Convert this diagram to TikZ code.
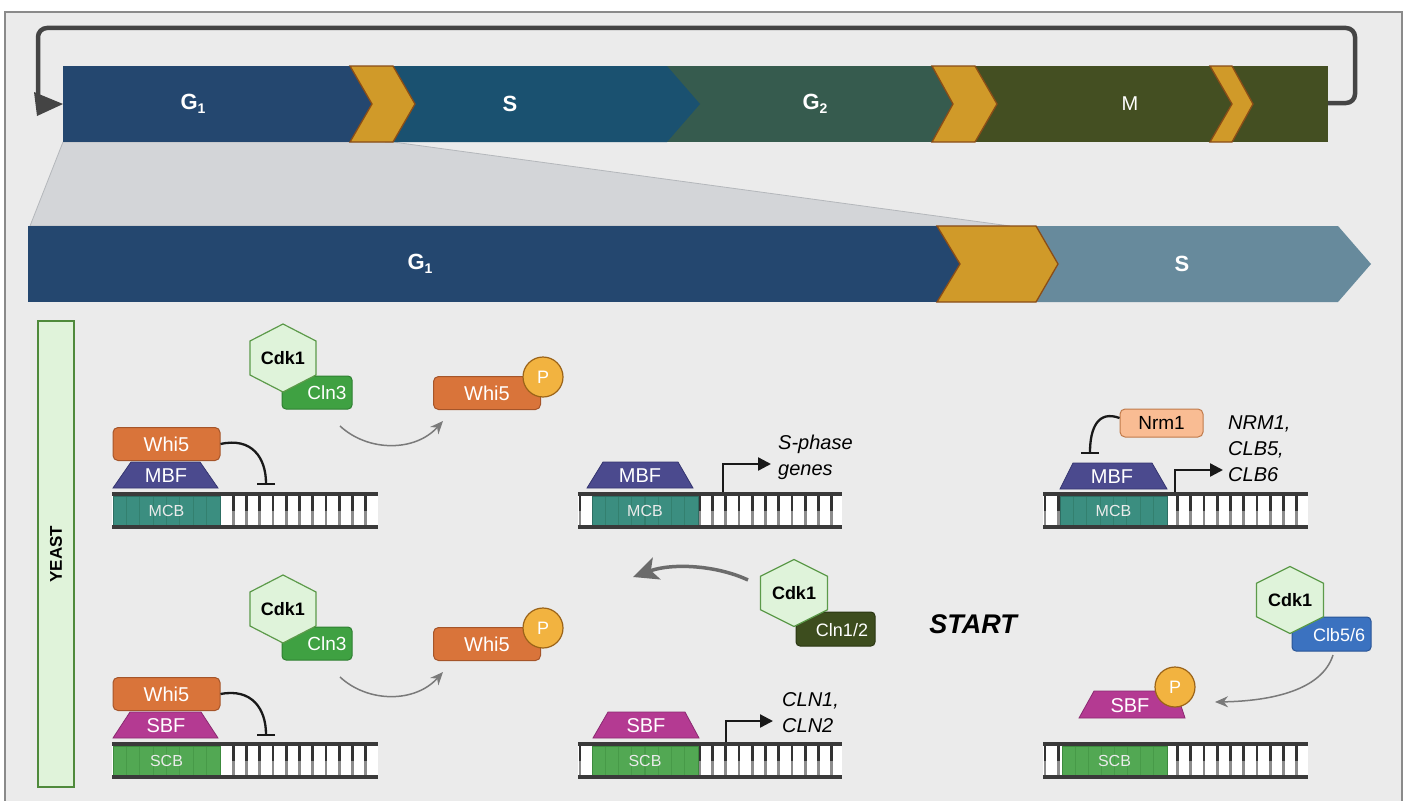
\documentclass[tikz,border=0pt]{standalone}
\usepackage{fontspec}
\setmainfont{Liberation Sans}
\usetikzlibrary{arrows.meta}

\definecolor{panel}{HTML}{EBEBEB}
\definecolor{paneledge}{HTML}{8A8A8A}
\definecolor{wedge}{HTML}{D3D5D8}
\definecolor{wedgeedge}{HTML}{B4B7BB}
\definecolor{cGone}{HTML}{24476F}
\definecolor{cS}{HTML}{1A5170}
\definecolor{cGtwo}{HTML}{365B4E}
\definecolor{cM}{HTML}{444F22}
\definecolor{cSlight}{HTML}{678A9C}
\definecolor{gold}{HTML}{D09A29}
\definecolor{goldedge}{HTML}{8A4D17}
\definecolor{loopc}{HTML}{444444}
\definecolor{yfill}{HTML}{E0F3DA}
\definecolor{yedge}{HTML}{4F8A3B}
\definecolor{whi}{HTML}{D9743A}
\definecolor{whiedge}{HTML}{A5552A}
\definecolor{mbf}{HTML}{4B4A8E}
\definecolor{mbfedge}{HTML}{35356F}
\definecolor{sbf}{HTML}{B43A92}
\definecolor{sbfedge}{HTML}{8A2A70}
\definecolor{mcb}{HTML}{3B8E80}
\definecolor{mcbline}{HTML}{33806F}
\definecolor{mcbedge}{HTML}{2D6E63}
\definecolor{scb}{HTML}{52A853}
\definecolor{scbline}{HTML}{479A48}
\definecolor{scbedge}{HTML}{3C8A3D}
\definecolor{hexfill}{HTML}{DFF3DA}
\definecolor{hexedge}{HTML}{5C9A4A}
\definecolor{clnthree}{HTML}{3FA142}
\definecolor{clnthreeedge}{HTML}{2F8032}
\definecolor{clnonetwo}{HTML}{3D4D1E}
\definecolor{clnonetwoedge}{HTML}{2A3612}
\definecolor{clb}{HTML}{3B72C0}
\definecolor{clbedge}{HTML}{2A5596}
\definecolor{pfill}{HTML}{F2B340}
\definecolor{pedge}{HTML}{9B6318}
\definecolor{nrm}{HTML}{F9BC93}
\definecolor{nrmedge}{HTML}{C07A4B}
\definecolor{rail}{HTML}{3A3A3A}
\definecolor{rungdark}{HTML}{333333}
\definecolor{runglight}{HTML}{8C8C8C}
\definecolor{greyarrow}{HTML}{7A7A7A}
\definecolor{bigarrowc}{HTML}{6B6B6B}

\newcommand\fsz[1]{\fontsize{#1}{\fpeval{#1*1.3}}\selectfont}
\newcommand\lowidx[1]{\raisebox{-4pt}{\fsz{14}#1}}

% ladder of a DNA double strand with a coloured binding box
% #1 x0, #2 x1, #3 top rail y, #4 box left, #5 box right, #6 box colour prefix, #7 box label, #8 node name
\newcommand\dnastrand[8]{%
  \fill[white] (#1,#3) rectangle (#2,#3+33);
  \foreach \k in {0,...,20}{%
    \pgfmathsetmacro\rx{#1+2+13.25*\k}%
    \ifdim\rx pt<#2pt
      \draw[rungtop] (\rx,#3) -- (\rx,#3+16.5);
      \draw[rungbot] (\rx,#3+16.5) -- (\rx,#3+33);
    \fi
  }%
  \fill[#6] (#4,#3+2) rectangle (#5,#3+31);
  \foreach \k in {1,...,7}{%
    \draw[#6line, line width=1.2] ({#4+(#5-#4)*\k/8},#3+2) -- ({#4+(#5-#4)*\k/8},#3+31);
  }%
  \draw[#6edge, line width=1] (#4,#3+2) rectangle (#5,#3+31);
  \node[boxlbl] (#8) at ({(#4+#5)/2},#3+17) {#7};
  \draw[railline] (#1,#3) -- (#2,#3);
  \draw[railline] (#1,#3+33) -- (#2,#3+33);
}

% Cdk1 hexagon: #1 cx, #2 cy, #3 width, #4 height, #5 node name
\newcommand\cdkhex[5]{%
  \filldraw[fill=hexfill, draw=hexedge, line width=1.2]
    (#1,#2-#4/2) -- (#1+#3/2,#2-#4/4) -- (#1+#3/2,#2+#4/4) -- (#1,#2+#4/2)
    -- (#1-#3/2,#2+#4/4) -- (#1-#3/2,#2-#4/4) -- cycle;
  \node[font=\bfseries\fsz{18}, inner sep=0] (#5) at (#1,#2) {Cdk1};
}

\begin{document}
\begin{tikzpicture}[x=1pt,y=-1pt,
  chev/.style={fill=gold, draw=goldedge, line width=1.3, line join=miter},
  barlbl/.style={text=white, font=\bfseries\fsz{22}, inner sep=0},
  loopline/.style={draw=loopc, line width=4.5, rounded corners=9},
  ybox/.style={draw=yedge, fill=yfill, line width=1.3, minimum width=466, minimum height=36, inner sep=0, font=\bfseries\fsz{17}},
  whibox/.style={draw=whiedge, fill=whi, rounded corners=5, line width=1, minimum width=107, minimum height=33, inner sep=0, text=white, font=\fsz{20}},
  protlbl/.style={text=white, font=\fsz{20}, inner sep=0},
  boxlbl/.style={text=white!92!black, font=\fsz{16}, inner sep=0},
  rungtop/.style={draw=rungdark, line width=2.6},
  rungbot/.style={draw=runglight, line width=2.6},
  railline/.style={draw=rail, line width=4},
  inhib/.style={draw=black!90, line width=2.3, -{Bar[width=18pt]}},
  txarrow/.style={draw=black!90, line width=2.3, -{Triangle[length=13pt,width=13pt]}},
  garrow/.style={draw=greyarrow, line width=1.5, -{Stealth[length=13pt,width=11pt]}},
  bigarrow/.style={draw=bigarrowc, line width=3.5, -{Stealth[length=25pt,width=23pt,inset=6pt]}},
  pcircle/.style={circle, fill=pfill, draw=pedge, line width=1.2, minimum size=40, inner sep=0, text=white, font=\fsz{18}},
  genelbl/.style={font=\itshape\fsz{20}, align=left, anchor=west, inner sep=0},
  cycbox/.style={rounded corners=4, line width=1, inner sep=0, text=white, font=\fsz{19}}
]
\useasboundingbox (0,0) rectangle (1407,800);

% ---------- panel ----------
\fill[white] (0,0) rectangle (1407,800);
\filldraw[fill=panel, draw=paneledge, line width=1.2] (5,12) rectangle (1402,815);

% ---------- zoom wedge between the two bars ----------
\filldraw[fill=wedge, draw=wedgeedge, line width=0.8]
  (63,142) -- (393,142) -- (1010,226) -- (30,226) -- cycle;

% ---------- full cycle bar ----------
\fill[cGtwo] (650,66) rectangle (965,142);
\fill[cM] (960,66) rectangle (1328,142);
\fill[cS] (385,66) -- (667,66) -- (700,104) -- (667,142) -- (385,142) -- cycle;
\fill[cGone] (63,66) rectangle (372,142);
\draw[chev] (350,66) -- (393,66) -- (415,104) -- (393,142) -- (350,142) -- (372,104) -- cycle;
\draw[chev] (932,66) -- (975,66) -- (997,104) -- (975,142) -- (932,142) -- (953,104) -- cycle;
\draw[chev] (1210,66) -- (1232,66) -- (1253,104) -- (1232,142) -- (1210,142) -- (1232,104) -- cycle;

\node[barlbl] (topG1) at (193,104) {G\lowidx{1}};
\node[barlbl] (topS) at (510,104) {S};
\node[barlbl] (topG2) at (815,104) {G\lowidx{2}};
\node[text=white, font=\fsz{20}, inner sep=0] (topM) at (1130,104) {M};

% return loop from the end of M back to G1
\coordinate (loopA) at (1328,103);
\coordinate (loopB) at (38,100);
\draw[loopline] (loopA) -- (1355,103) -- (1355,28) -- (38,28) -- (loopB);
\fill[loopc] (34,92) -- (63,104) -- (37,116) -- cycle;

% ---------- expanded G1/S bar ----------
\fill[cGone] (28,226) rectangle (960,302);
\fill[cSlight] (1030,226) -- (1338,226) -- (1371,264) -- (1338,302) -- (1030,302) -- cycle;
\draw[chev] (937,226) -- (1036,226) -- (1058,264) -- (1036,302) -- (937,302) -- (960,264) -- cycle;
\node[barlbl] (lowG1) at (420,264) {G\lowidx{1}};
\node[barlbl] (lowS) at (1182,264) {S};

% ---------- organism label ----------
\node[ybox, rotate=90] (yeast) at (56,554) {YEAST};

% ---------- MBF row ----------
% repressed MBF
\dnastrand{112}{378}{494}{113}{220}{mcb}{MCB}{mcbA}
\filldraw[fill=mbf, draw=mbfedge, line width=0.8] (113,488) -- (218,488) -- (200,462) -- (131,462) -- cycle;
\node[protlbl] (mbfA) at (166,476) {MBF};
\node[whibox] (whiA) at (166.5,444) {Whi5};
\coordinate (blkA) at (266,485);
\draw[inhib] (whiA.east) .. controls (252,437) and (266,458) .. (blkA);

% Cdk1-Cln3 phosphorylates Whi5
\filldraw[fill=clnthree, draw=clnthreeedge, line width=1, rounded corners=4] (282,376) rectangle (352,409);
\cdkhex{283}{358}{66}{68}{cdkA}
\node[protlbl, font=\fsz{19}] (clnA) at (327,393) {Cln3};
\coordinate (a1s) at (340,426);
\coordinate (a1e) at (443,421);
\draw[garrow] (a1s) .. controls (368,452) and (415,452) .. (a1e);
\node[whibox] (whipA) at (487,393) {Whi5};
\node[pcircle] (pA) at (543,377) {P};

% active MBF
\dnastrand{578}{842}{494}{592}{698}{mcb}{MCB}{mcbB}
\filldraw[fill=mbf, draw=mbfedge, line width=0.8] (587,488) -- (693,488) -- (678,462) -- (603,462) -- cycle;
\node[protlbl] (mbfB) at (640,476) {MBF};
\coordinate (txBs) at (723,492);
\coordinate (txBe) at (771,464);
\draw[txarrow] (txBs) |- (txBe);
\node[genelbl] (genesB) at (778,457) {S-phase\\genes};

% MBF switched off by Nrm1
\dnastrand{1043}{1308}{494}{1060}{1167}{mcb}{MCB}{mcbC}
\filldraw[fill=mbf, draw=mbfedge, line width=0.8] (1060,489) -- (1167,489) -- (1152,463) -- (1073,463) -- cycle;
\node[protlbl] (mbfC) at (1112,477) {MBF};
\node[draw=nrmedge, fill=nrm, rounded corners=5, line width=1, minimum width=83, minimum height=28, inner sep=0, font=\fsz{19}] (nrm) at (1161.5,423) {Nrm1};
\coordinate (blkC) at (1090,454);
\draw[inhib] ([yshift=5pt]nrm.west) .. controls (1098,410) and (1090,428) .. (blkC);
\coordinate (txCs) at (1175,492);
\coordinate (txCe) at (1223,470);
\draw[txarrow] (txCs) |- (txCe);
\node[genelbl] (genesC) at (1228,449) {NRM1,\\CLB5,\\CLB6};

% ---------- Cdk1-Cln1/2 and START ----------
\filldraw[fill=clnonetwo, draw=clnonetwoedge, line width=1, rounded corners=4] (796,612) rectangle (875,646);
\cdkhex{794}{593}{67}{67}{cdkB}
\node[protlbl, font=\fsz{18}] (clnB) at (842,630) {Cln1/2};
\coordinate (a3s) at (748,580);
\coordinate (a3e) at (633,577);
\draw[bigarrow] (a3s) .. controls (716,565) and (672,563) .. (a3e);
\node[font=\bfseries\itshape\fsz{27}, inner sep=0] (start) at (973,624) {START};

% ---------- SBF row ----------
% repressed SBF
\dnastrand{112}{378}{744}{113}{220}{scb}{SCB}{scbA}
\filldraw[fill=sbf, draw=sbfedge, line width=0.8] (113,738) -- (218,738) -- (201,712) -- (130,712) -- cycle;
\node[protlbl] (sbfA) at (166,726) {SBF};
\node[whibox] (whiB) at (166.5,694) {Whi5};
\coordinate (blkB) at (266,736);
\draw[inhib] (whiB.east) .. controls (252,688) and (266,709) .. (blkB);

\filldraw[fill=clnthree, draw=clnthreeedge, line width=1, rounded corners=4] (282,627) rectangle (352,660);
\cdkhex{283}{609}{66}{68}{cdkC}
\node[protlbl, font=\fsz{19}] (clnC) at (327,644) {Cln3};
\coordinate (a2s) at (340,677);
\coordinate (a2e) at (443,672);
\draw[garrow] (a2s) .. controls (368,703) and (415,703) .. (a2e);
\node[whibox] (whipB) at (487,644) {Whi5};
\node[pcircle] (pB) at (543,628) {P};

% active SBF
\dnastrand{578}{842}{744}{592}{698}{scb}{SCB}{scbB}
\filldraw[fill=sbf, draw=sbfedge, line width=0.8] (593,738) -- (699,738) -- (685,712) -- (608,712) -- cycle;
\node[protlbl] (sbfB) at (646,726) {SBF};
\coordinate (txDs) at (726,742);
\coordinate (txDe) at (773,721);
\draw[txarrow] (txDs) |- (txDe);
\node[genelbl] (genesD) at (782,713) {CLN1,\\CLN2};

% SBF released after phosphorylation by Cdk1-Clb5/6
\dnastrand{1043}{1308}{744}{1062}{1167}{scb}{SCB}{scbC}
\filldraw[fill=sbf, draw=sbfedge, line width=0.8] (1079,718) -- (1185,718) -- (1176,691) -- (1094,691) -- cycle;
\node[protlbl] (sbfC) at (1130,706) {SBF};
\node[pcircle] (pC) at (1175,687) {P};

\filldraw[fill=clb, draw=clbedge, line width=1, rounded corners=4] (1292,617) rectangle (1371,651);
\cdkhex{1290}{600}{67}{67}{cdkD}
\node[protlbl, font=\fsz{18}] (clbD) at (1339,635) {Clb5/6};
\coordinate (a4s) at (1333,655);
\coordinate (a4e) at (1215,702);
\draw[garrow] (a4s) .. controls (1322,690) and (1272,701) .. (a4e);

\end{tikzpicture}
\end{document}
